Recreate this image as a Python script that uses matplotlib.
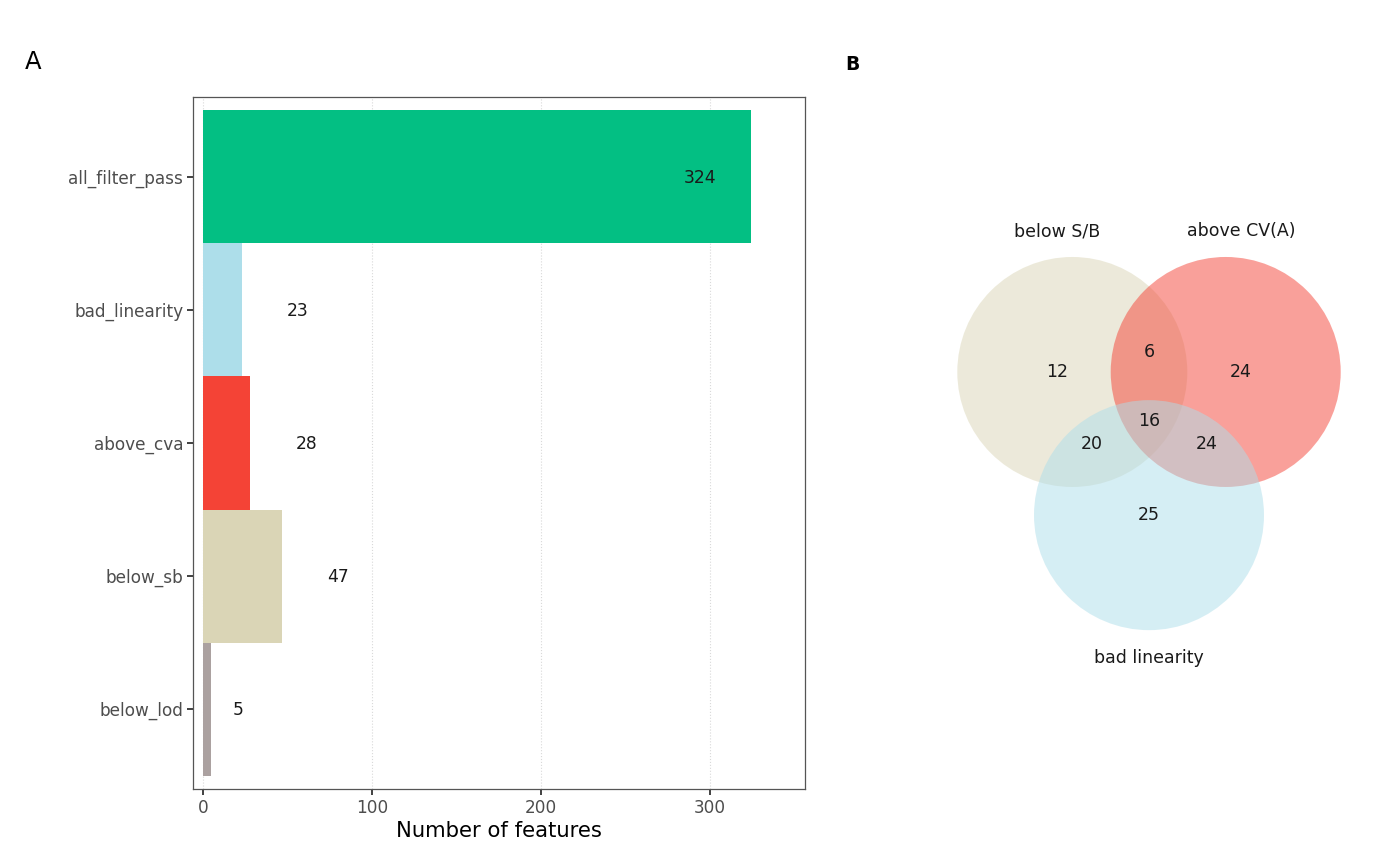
import matplotlib.pyplot as plt
from matplotlib.patches import Circle

plt.rcParams['font.family'] = ['DejaVu Sans']

# panel A data
categories = ['all_filter_pass', 'bad_linearity', 'above_cva', 'below_sb', 'below_lod']
counts = [324, 23, 28, 47, 5]
bar_colors = ['#03BF83', '#ADDEEA', '#F44336', '#DAD5B6', '#ABA1A0']

# panel B data (venn)
set_names = ['below S/B', 'above CV(A)', 'bad linearity']
set_colors = ['#DAD5B6', '#F44336', '#ADDEEA']
region_labels = ['12', '24', '25', '6', '20', '24', '16']

fig = plt.figure(figsize=(14, 8.65), dpi=100)
W, H = 1400, 865

def px_axes(x0, y0, x1, y1):
    return fig.add_axes([x0 / W, 1 - y1 / H, (x1 - x0) / W, (y1 - y0) / H])

# ---- Panel A ----
ax = px_axes(193, 97, 805, 789)
ypos = list(range(len(categories), 0, -1))
ax.barh(ypos, counts, height=1.0, color=bar_colors, zorder=2)
for y, c in zip(ypos, counts):
    if c > 300:
        xt = c - 30
    elif c < 10:
        xt = c + 16
    else:
        xt = c + 33
    ax.text(xt, y - 0.01, str(c), ha='center', va='center', fontsize=12.3, color='#1A1A1A', zorder=3)
ax.set_xlim(-5.9, 356)
ax.set_ylim(0.4, 5.6)
ax.set_yticks(ypos)
ax.set_yticklabels(categories)
ax.set_xticks([0, 100, 200, 300])
ax.tick_params(axis='both', labelsize=12.2, labelcolor='#4D4D4D', color='#333333',
               length=4, width=1.3, pad=3)
ax.grid(axis='x', linestyle=':', color='#D9D9D9', linewidth=0.8, zorder=0)
ax.set_axisbelow(True)
for s in ax.spines.values():
    s.set_color('#555555')
    s.set_linewidth(0.9)
ax.set_xlabel('Number of features', fontsize=15.2, labelpad=3)
fig.text(25 / W, 1 - 62 / H, 'A', fontsize=17.5, ha='left', va='center')

# ---- Panel B ----
r_px = 115.0
cx0, cy0 = 1149.0, 419.7
bx = px_axes(880, 180, 1400, 700)
bx.set_xlim((880 - cx0) / r_px, (1400 - cx0) / r_px)
bx.set_ylim(-(700 - cy0) / r_px, (cy0 - 180) / r_px)
bx.axis('off')

centers = [(-0.667, 0.415), (0.667, 0.415), (0.0, -0.83)]
for (x, y), col in zip(centers, set_colors):
    bx.add_patch(Circle((x, y), 1.0, facecolor=col, alpha=0.5, edgecolor='none'))

name_pos = [(-0.80, 1.64), (0.80, 1.64), (0.0, -2.07)]
for (x, y), name in zip(name_pos, set_names):
    bx.text(x, y, name, ha='center', va='center', fontsize=12.5, color='#1A1A1A')

label_pos = [(-0.80, 0.415), (0.80, 0.415), (0.0, -0.83),
             (0.0, 0.59), (-0.50, -0.21), (0.50, -0.21), (0.0, -0.01)]
for (x, y), lab in zip(label_pos, region_labels):
    bx.text(x, y, lab, ha='center', va='center', fontsize=12.5, color='#1A1A1A')

fig.text(845 / W, 1 - 64 / H, 'B', fontsize=13.5, fontweight='bold', ha='left', va='center')

fig.savefig('out.png', dpi=100)
